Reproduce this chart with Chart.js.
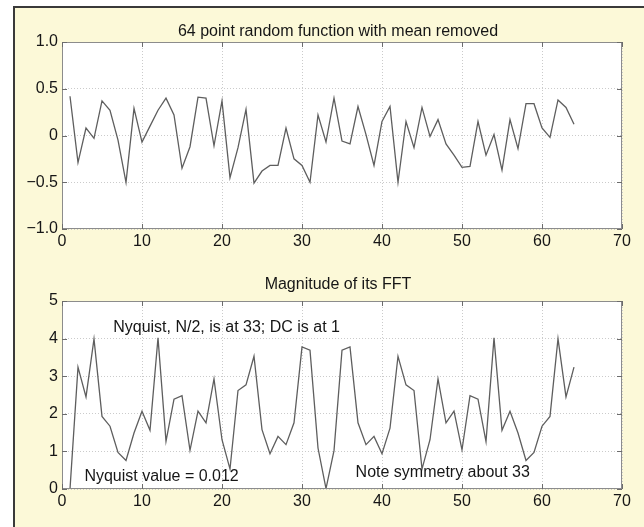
<!DOCTYPE html>
<html>
<head>
<meta charset="utf-8">
<script src="https://cdn.jsdelivr.net/npm/chart.js@4.4.1/dist/chart.umd.min.js"></script>
<style>
  html, body { margin: 0; padding: 0; background: #fff; }
  body { width: 644px; height: 527px; position: relative; overflow: hidden; }
  #frame {
    position: absolute; left: 13px; top: 6px; width: 700px; height: 600px;
    background: #fcf9d8; border-left: 2px solid #3a3a3a; border-top: 2px solid #3a3a3a;
  }
  canvas { position: absolute; left: 0; }
  #top { top: 0; }
  #bottom { top: 260px; }
</style>
</head>
<body>
<div id="frame"></div>
<canvas id="top" width="644" height="260"></canvas>
<canvas id="bottom" width="644" height="267"></canvas>
<script>
// sample number 1..64
const sampleIndex = [1, 2, 3, 4, 5, 6, 7, 8, 9, 10, 11, 12, 13, 14, 15, 16,
  17, 18, 19, 20, 21, 22, 23, 24, 25, 26, 27, 28, 29, 30, 31, 32,
  33, 34, 35, 36, 37, 38, 39, 40, 41, 42, 43, 44, 45, 46, 47, 48,
  49, 50, 51, 52, 53, 54, 55, 56, 57, 58, 59, 60, 61, 62, 63, 64];

// random signal, mean removed
const signalValues = [0.42, -0.29, 0.08, -0.03, 0.37, 0.27, -0.05, -0.50, 0.29, -0.07,
  0.10, 0.27, 0.40, 0.22, -0.35, -0.12, 0.41, 0.40, -0.11, 0.37,
  -0.45, -0.13, 0.28, -0.51, -0.38, -0.32, -0.32, 0.08, -0.25, -0.32,
  -0.50, 0.22, -0.07, 0.40, -0.06, -0.09, 0.31, 0.01, -0.32, 0.15,
  0.31, -0.50, 0.15, -0.13, 0.30, -0.01, 0.17, -0.09, -0.21, -0.34,
  -0.33, 0.15, -0.21, 0.01, -0.37, 0.17, -0.14, 0.34, 0.34, 0.08,
  -0.02, 0.38, 0.30, 0.12];

// |FFT|
const fftMagnitude = [0.0, 3.24, 2.45, 3.99, 1.93, 1.67, 0.97, 0.76, 1.49, 2.07,
  1.56, 4.02, 1.27, 2.39, 2.48, 1.03, 2.07, 1.76, 2.93, 1.31,
  0.53, 2.62, 2.77, 3.53, 1.58, 0.94, 1.40, 1.18, 1.76, 3.78,
  3.69, 1.09, 0.012, 1.02, 3.69, 3.78, 1.76, 1.18, 1.40, 0.94,
  1.62, 3.53, 2.77, 2.62, 0.53, 1.31, 2.93, 1.76, 2.07, 1.04,
  2.48, 2.39, 1.26, 4.02, 1.56, 2.07, 1.49, 0.76, 0.97, 1.67,
  1.93, 4.00, 2.45, 3.24];

const xTicks = [0, 10, 20, 30, 40, 50, 60, 70];
const signalTickLabels = { '1': '1.0', '0.5': '0.5', '0': '0', '-0.5': '\u22120.5', '-1': '\u22121.0' };

const topTitle = '64 point random function with mean removed';
const bottomTitle = 'Magnitude of its FFT';
const notes = [
  { text: 'Nyquist, N/2, is at 33; DC is at 1', x: 6.4, y: 4.29 },
  { text: 'Nyquist value = 0.012', x: 2.8, y: 0.33 },
  { text: 'Note symmetry about 33', x: 36.7, y: 0.43 }
];

const textFont = '16px "Liberation Sans", Arial, sans-serif';

// white axes box, matlab style inward ticks, title + text notes
const matlabAxes = {
  id: 'matlabAxes',
  beforeDraw(chart) {
    const { ctx, chartArea: a } = chart;
    ctx.save();
    ctx.fillStyle = '#ffffff';
    ctx.fillRect(a.left, a.top, a.right - a.left, a.bottom - a.top);
    ctx.restore();
  },
  afterDatasetsDraw(chart, args, opts) {
    const { ctx, chartArea: a, scales } = chart;
    ctx.save();
    ctx.strokeStyle = '#8c8c8c';
    ctx.lineWidth = 1;
    ctx.strokeRect(a.left + 0.5, a.top + 0.5, a.right - a.left - 1, a.bottom - a.top - 1);
    ctx.strokeStyle = '#6c6c6c';
    const tl = 5;
    scales.x.ticks.forEach(t => {
      const px = Math.round(scales.x.getPixelForValue(t.value)) + 0.5;
      ctx.beginPath();
      ctx.moveTo(px, a.bottom); ctx.lineTo(px, a.bottom - tl);
      ctx.moveTo(px, a.top); ctx.lineTo(px, a.top + tl);
      ctx.stroke();
    });
    scales.y.ticks.forEach(t => {
      const py = Math.round(scales.y.getPixelForValue(t.value)) + 0.5;
      ctx.beginPath();
      ctx.moveTo(a.left, py); ctx.lineTo(a.left + tl, py);
      ctx.moveTo(a.right, py); ctx.lineTo(a.right - tl, py);
      ctx.stroke();
    });

    ctx.fillStyle = '#161616';
    ctx.font = textFont;
    ctx.textBaseline = 'middle';
    ctx.textAlign = 'center';
    ctx.fillText(opts.title, (a.left + a.right) / 2 - 4, opts.titleY);
    ctx.textAlign = 'left';
    (opts.notes || []).forEach(n => {
      ctx.fillText(n.text, scales.x.getPixelForValue(n.x), scales.y.getPixelForValue(n.y));
    });
    ctx.restore();
  }
};

function makeAxes(yMin, yMax, yStep, yLabel, xHeight) {
  const grid = { color: '#cbcbcb', lineWidth: 1, drawTicks: false };
  const border = { display: false, dash: [1, 2] };
  const tickFont = { family: '"Liberation Sans", Arial, sans-serif', size: 16 };
  return {
    x: {
      type: 'linear', min: 0, max: 70,
      afterBuildTicks: s => { s.ticks = xTicks.map(v => ({ value: v })); },
      afterFit: s => { s.height = xHeight; },
      grid, border,
      ticks: { color: '#161616', font: tickFont, padding: 3, maxRotation: 0 }
    },
    y: {
      min: yMin, max: yMax,
      afterFit: s => { s.width = 62; },
      grid, border,
      ticks: { stepSize: yStep, color: '#161616', font: tickFont, padding: 4, callback: yLabel }
    }
  };
}

function lineData(values) {
  return {
    datasets: [{
      data: sampleIndex.map((x, i) => ({ x, y: values[i] })),
      borderColor: '#5e5e5e',
      borderWidth: 1.3,
      pointRadius: 0,
      tension: 0,
      fill: false
    }]
  };
}

new Chart(document.getElementById('top'), {
  type: 'line',
  data: lineData(signalValues),
  options: {
    responsive: false,
    animation: false,
    layout: { padding: { left: 0, right: 22, top: 42, bottom: 0 } },
    scales: makeAxes(-1, 1, 0.5, v => signalTickLabels[String(v)] ?? '', 31),
    plugins: {
      legend: { display: false },
      tooltip: { enabled: false },
      matlabAxes: { title: topTitle, titleY: 32 }
    }
  },
  plugins: [matlabAxes]
});

new Chart(document.getElementById('bottom'), {
  type: 'line',
  data: lineData(fftMagnitude),
  options: {
    responsive: false,
    animation: false,
    layout: { padding: { left: 0, right: 22, top: 41, bottom: 0 } },
    scales: makeAxes(0, 5, 1, v => String(v), 38),
    plugins: {
      legend: { display: false },
      tooltip: { enabled: false },
      matlabAxes: { title: bottomTitle, titleY: 25, notes }
    }
  },
  plugins: [matlabAxes]
});
</script>
</body>
</html>
